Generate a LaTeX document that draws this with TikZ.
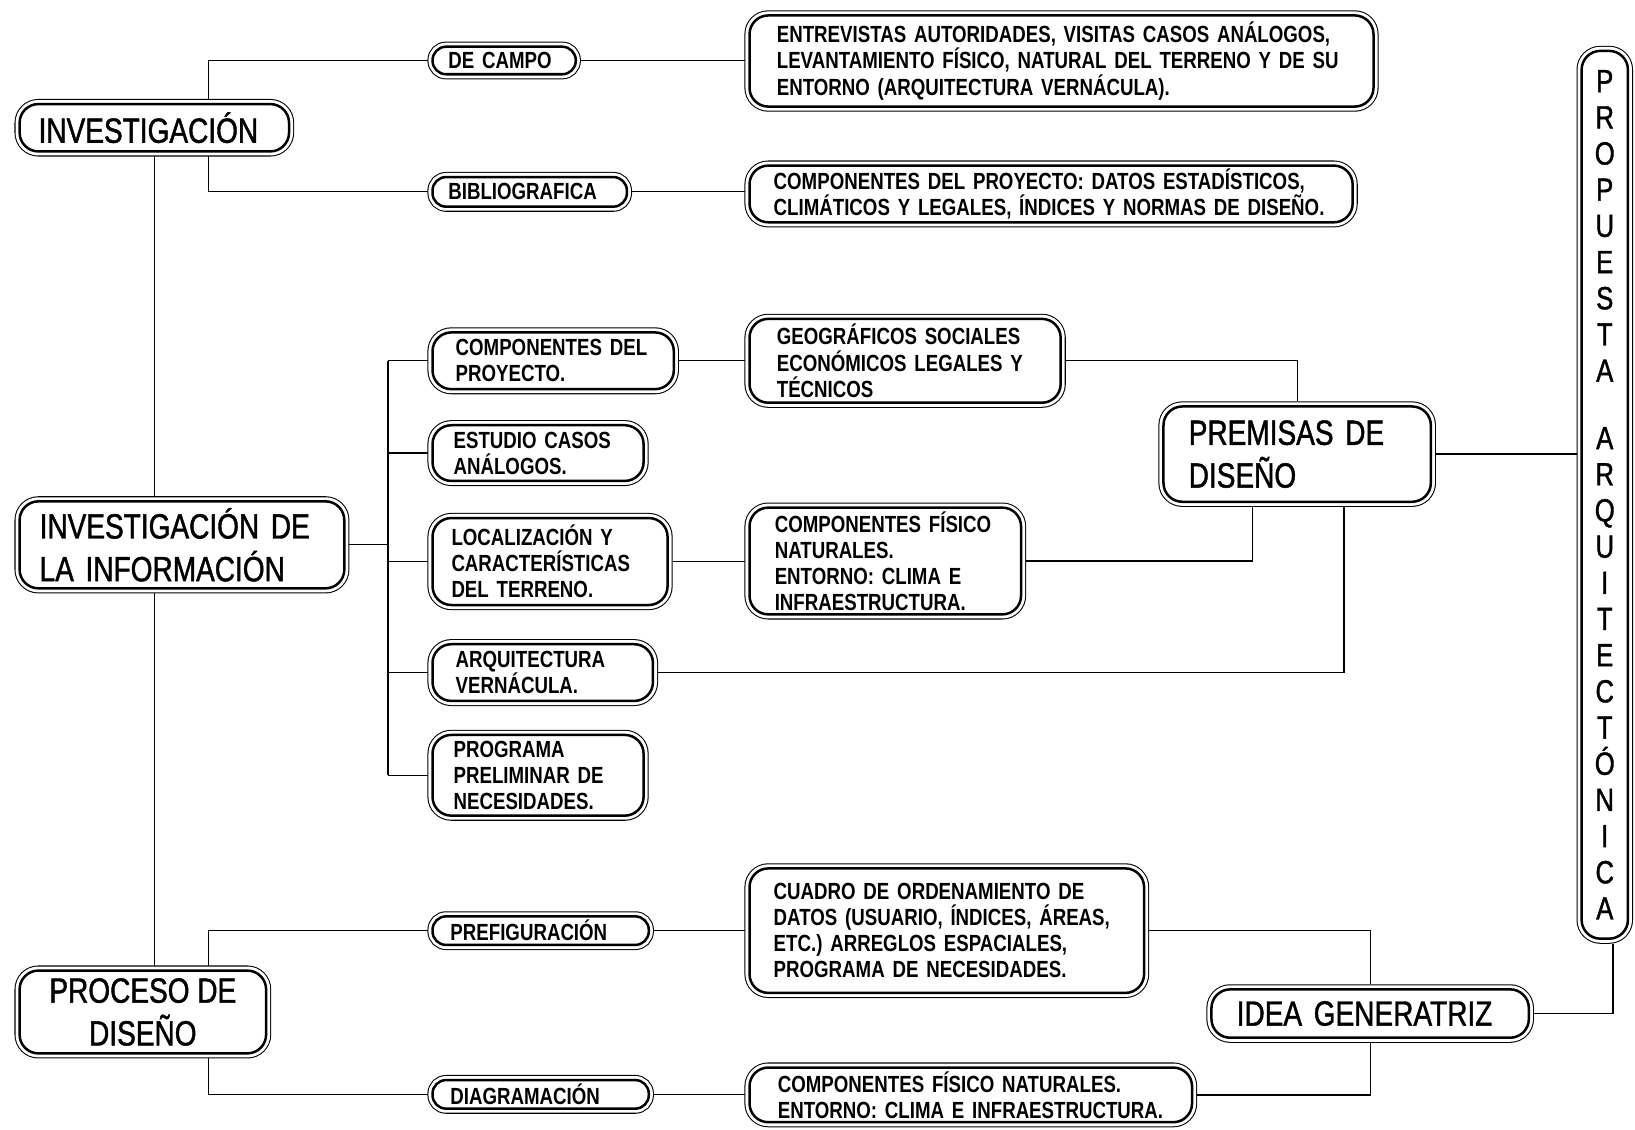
\documentclass[tikz,border=0pt]{standalone}
\usepackage{fontspec}
\setmainfont{Liberation Sans}[FakeStretch=0.8, WordSpace=0.75]
\newfontfamily\grandefont{Liberation Sans}[FakeStretch=0.8, FakeBold=1.2]
\newcommand{\letrachica}{\fontsize{11.2}{12.5}\selectfont\bfseries}
\newcommand{\letragrande}{\grandefont\fontsize{16.8}{20.5}\selectfont}
\newcommand{\letravertical}{\grandefont\fontsize{15.4}{17.35}\selectfont}

\begin{document}
\begin{tikzpicture}[x=0.5pt, y=-0.5pt,
    caja/.style={draw, fill=white, line width=1.2pt, rounded corners=9pt,
        inner sep=0pt, outer sep=2.4pt, align=left,
        preaction={draw, line width=4.9pt},
        preaction={draw=white, line width=3.9pt}},
    chica/.style={caja, font=\letrachica},
    etiqueta/.style={chica, rounded corners=6.5pt},
    grande/.style={caja, font=\letragrande},
    linea/.style={line width=0.6pt}]

% fondo y marco
\fill[white] (0,0) rectangle (1568,1083);
\useasboundingbox (0,0) rectangle (1568,1083);

% =====================================================
% INVESTIGACIÓN
% =====================================================
\node[grande, minimum width=129.2pt, minimum height=22.7pt, text width=111pt]
    (inv) at (148,122.5) {INVESTIGACIÓN};
\node[etiqueta, minimum width=68.7pt, minimum height=13.2pt, text width=53.5pt]
    (campo) at (483.5,58) {DE CAMPO};
\node[etiqueta, minimum width=93.2pt, minimum height=14.2pt, text width=78pt]
    (biblio) at (508,184) {BIBLIOGRAFICA};
\node[chica, minimum width=299.2pt, minimum height=43.7pt, text width=273pt]
    (entrev) at (1018,58.5) {ENTREVISTAS AUTORIDADES, VISITAS CASOS ANÁLOGOS,\\
    LEVANTAMIENTO FÍSICO, NATURAL DEL TERRENO Y DE SU\\
    ENTORNO (ARQUITECTURA VERNÁCULA).};
\node[chica, minimum width=289.2pt, minimum height=27.2pt, text width=266pt]
    (datos) at (1008,186) {COMPONENTES DEL PROYECTO: DATOS ESTADÍSTICOS,\\
    CLIMÁTICOS Y LEGALES, ÍNDICES Y NORMAS DE DISEÑO.};

% =====================================================
% INVESTIGACIÓN DE LA INFORMACIÓN
% =====================================================
\node[grande, minimum width=155.7pt, minimum height=41.7pt, text width=136.5pt]
    (invinfo) at (174.5,522.5) {INVESTIGACIÓN DE\\LA INFORMACIÓN};

\node[chica, minimum width=115.7pt, minimum height=27.2pt, text width=93.5pt]
    (compproy) at (530.5,346) {COMPONENTES DEL\\PROYECTO.};
\node[chica, minimum width=101.2pt, minimum height=26.7pt, text width=81pt]
    (estudio) at (516,434.5) {ESTUDIO CASOS\\ANÁLOGOS.};
\node[chica, minimum width=112.7pt, minimum height=41.7pt, text width=94.5pt]
    (local) at (527.5,538.5) {LOCALIZACIÓN Y\\CARACTERÍSTICAS\\DEL TERRENO.};
\node[chica, minimum width=105.7pt, minimum height=27.2pt, text width=83.5pt]
    (vern) at (520.5,645) {ARQUITECTURA\\VERNÁCULA.};
\node[chica, minimum width=101.2pt, minimum height=38.7pt, text width=81pt]
    (progr) at (516,743.5) {PROGRAMA\\PRELIMINAR DE\\NECESIDADES.};

\node[chica, minimum width=149.2pt, minimum height=40.2pt, text width=123pt]
    (geo) at (868,346) {GEOGRÁFICOS SOCIALES\\ECONÓMICOS LEGALES Y\\TÉCNICOS};
\node[chica, minimum width=130.2pt, minimum height=51.2pt, text width=106pt]
    (fisico) at (849,538) {COMPONENTES FÍSICO\\NATURALES.\\ENTORNO: CLIMA E\\INFRAESTRUCTURA.};

\node[grande, minimum width=128.2pt, minimum height=45.7pt, text width=104pt]
    (prem) at (1244,435.5) {PREMISAS DE\\DISEÑO};

% --- Propuesta (vertical) ---
\node[caja, font=\letravertical, align=center, minimum width=22.2pt, minimum height=425.7pt]
    (prop) at (1539,474.5) {P\\R\\O\\P\\U\\E\\S\\T\\A\\[15pt]A\\R\\Q\\U\\I\\T\\E\\C\\T\\Ó\\N\\I\\C\\A};

% =====================================================
% PROCESO DE DISEÑO
% =====================================================
\node[grande, align=center, minimum width=118.2pt, minimum height=39.7pt]
    (proceso) at (137,970.5) {PROCESO DE\\DISEÑO};
\node[etiqueta, minimum width=103.7pt, minimum height=13.7pt, text width=86.5pt]
    (prefig) at (518.5,892.5) {PREFIGURACIÓN};
\node[etiqueta, minimum width=103.7pt, minimum height=13.7pt, text width=86.5pt]
    (diagr) at (518.5,1049.5) {DIAGRAMACIÓN};
\node[chica, minimum width=189.2pt, minimum height=59.7pt, text width=166pt]
    (cuadro) at (908,892.5) {CUADRO DE ORDENAMIENTO DE\\DATOS (USUARIO, ÍNDICES, ÁREAS,\\
    ETC.) ARREGLOS ESPACIALES,\\PROGRAMA DE NECESIDADES.};
\node[chica, minimum width=212.2pt, minimum height=26.2pt, text width=185pt]
    (fisnat) at (931,1050) {COMPONENTES FÍSICO NATURALES.\\ENTORNO: CLIMA E INFRAESTRUCTURA.};
\node[grande, minimum width=152.2pt, minimum height=23.2pt, text width=128pt]
    (idea) at (1314,972) {IDEA GENERATRIZ};

% =====================================================
% CONEXIONES
% =====================================================
\coordinate (bus) at (372,522.5);

% eje izquierdo
\draw[linea] (inv.south) -- (inv.south |- invinfo.north);
\draw[linea] (inv.south |- invinfo.south) -- (inv.south |- proceso.north);

% investigación
\draw[linea] ([xshift=26pt]inv.north) |- (campo.west);
\draw[linea] ([xshift=26pt]inv.south) |- (biblio.west);
\draw[linea] (campo.east) -- (campo.east -| entrev.west);
\draw[linea] (biblio.east) -- (biblio.east -| datos.west);

% investigación de la información
\draw[linea] (invinfo.east) -- (bus);
\draw[linea] (bus |- compproy.west) -- (bus |- progr.west);
\foreach \n in {compproy, estudio, local, vern, progr} {
    \draw[linea] (bus |- \n.west) -- (\n.west);
}
\draw[linea] (compproy.east) -- (compproy.east -| geo.west);
\draw[linea] (local.east) -- (local.east -| fisico.west);
\draw[linea] (geo.east) -| (prem.north);
\draw[linea] (fisico.east) -| ([xshift=-21.5pt]prem.south);
\draw[linea] (vern.east) -| ([xshift=22.5pt]prem.south);
\draw[linea] (prem.east) -- (prem.east -| prop.west);

% proceso de diseño
\draw[linea] ([xshift=31.5pt]proceso.north) |- (prefig.west);
\draw[linea] ([xshift=31.5pt]proceso.south) |- (diagr.west);
\draw[linea] (prefig.east) -- (prefig.east -| cuadro.west);
\draw[linea] (diagr.east) -- (diagr.east -| fisnat.west);
\draw[linea] (cuadro.east) -| (idea.north);
\draw[linea] (fisnat.east) -| (idea.south);
\draw[linea] (idea.east) -| ([xshift=4pt]prop.south);

\end{tikzpicture}
\end{document}
